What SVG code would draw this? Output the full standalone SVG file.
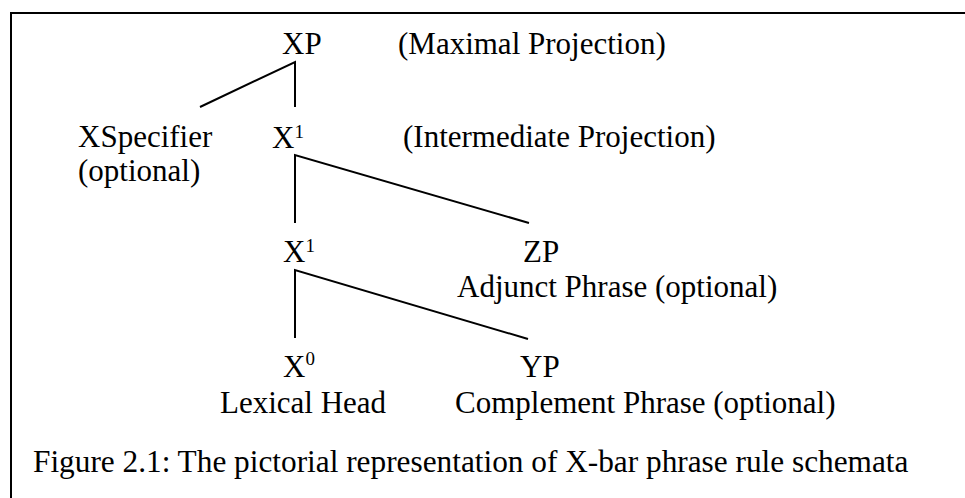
<svg xmlns="http://www.w3.org/2000/svg" width="965" height="498" viewBox="0 0 965 498">
<style>
text{font-family:"Liberation Serif","Times New Roman",serif;font-size:31px;fill:#000}
.sup{font-size:19px}
.cap{font-size:31.3px}
.ln{stroke:#000;stroke-width:2;fill:none;stroke-linecap:butt;stroke-linejoin:miter}
</style>
<rect width="965" height="498" fill="#fff"/>
<path class="ln" d="M11,498 V13 H965"/>
<g id="connectors">
<path class="ln" d="M200,107 L295,62 V107"/>
<path class="ln" d="M295,223 V155 L529,223"/>
<path class="ln" d="M295,338 V270 L528,339"/>
</g>
<g id="xp"><text x="282" y="54">XP</text><text x="398" y="54">(Maximal Projection)</text></g>
<g id="xspec"><text x="78" y="147">XSpecifier</text><text x="78" y="181">(optional)</text></g>
<g id="xbar1"><text x="272" y="148">X<tspan class="sup" dy="-10">1</tspan></text><text x="403" y="147">(Intermediate Projection)</text></g>
<g id="xbar2"><text x="283" y="262">X<tspan class="sup" dy="-10">1</tspan></text></g>
<g id="zp"><text x="523" y="262">ZP</text><text x="457" y="297">Adjunct Phrase (optional)</text></g>
<g id="x0"><text x="283" y="377">X<tspan class="sup" dy="-12">0</tspan></text><text x="220" y="413">Lexical Head</text></g>
<g id="yp"><text x="520" y="377">YP</text><text x="455" y="413">Complement Phrase (optional)</text></g>
<g id="caption"><text class="cap" x="33" y="472">Figure 2.1: The pictorial representation of X-bar phrase rule schemata</text></g>
</svg>
